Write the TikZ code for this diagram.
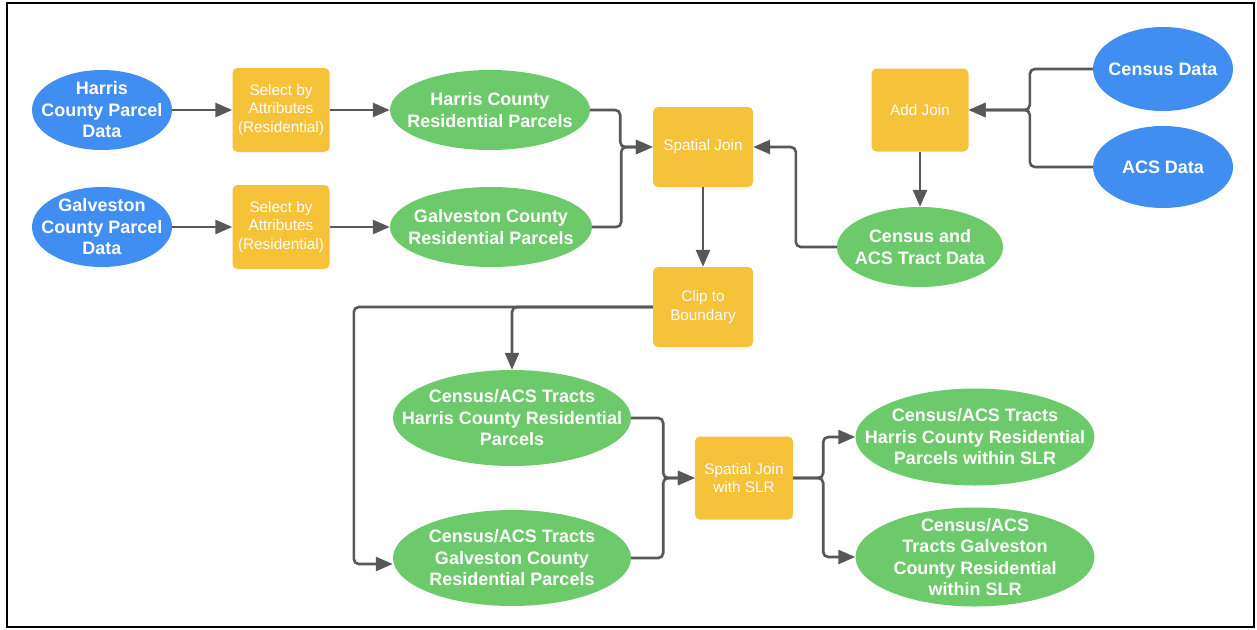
\documentclass[tikz,border=0pt]{standalone}
\usepackage{fontspec}
\setmainfont{Liberation Sans}
\usetikzlibrary{shapes.geometric,arrows.meta}
\definecolor{cblue}{RGB}{64,142,242}
\definecolor{cgreen}{RGB}{108,202,106}
\definecolor{cyellow}{RGB}{246,194,58}
\definecolor{cgray}{RGB}{88,88,88}
\tikzset{
  ell/.style={ellipse, inner sep=-60pt, text=white, align=center,
    font=\bfseries\fontsize{18}{21.5}\selectfont},
  bluell/.style={ell, fill=cblue},
  greenell/.style={ell, fill=cgreen},
  procbox/.style={rectangle, rounded corners=5pt, fill=cyellow, text=white,
    align=center, inner sep=0pt, minimum width=98pt, minimum height=82pt,
    font=\fontsize{15.3}{18.5}\selectfont},
  conn/.style={draw=cgray, line width=2.6pt, rounded corners=5pt,
    -{Triangle[length=17pt,width=14pt]}}
}
\begin{document}
\begin{tikzpicture}[x=1pt,y=-1pt]
\useasboundingbox (0,0) rectangle (1257,629);
\draw[line width=2pt] (7,3) rectangle (1254,627);

% left column
\node[bluell, minimum width=140pt, minimum height=80pt] (hp) at (102,110) {Harris\\County Parcel\\Data};
\node[bluell, minimum width=140pt, minimum height=80pt] (gp) at (102,227) {Galveston\\County Parcel\\Data};
\node[procbox, minimum width=97pt, minimum height=84pt] (s1) at (281,110) {Select by\\Attributes\\(Residential)};
\node[procbox, minimum width=97pt, minimum height=84pt] (s2) at (281,227) {Select by\\Attributes\\(Residential)};
\node[greenell, minimum width=200pt, minimum height=80pt] (hr) at (490,110) {Harris County\\Residential Parcels};
\node[greenell, minimum width=202pt, minimum height=80pt] (gr) at (491,227) {Galveston County\\Residential Parcels};

% middle
\node[procbox, minimum width=100pt, minimum height=80pt] (sj) at (703,147) {Spatial Join};
\node[procbox, minimum width=100pt, minimum height=80pt] (cb) at (703,307) {Clip to\\Boundary};

% right top
\node[procbox, minimum width=97pt, minimum height=83pt] (aj) at (920,110) {Add Join};
\node[bluell, minimum width=140pt, minimum height=84pt] (cd) at (1163,69) {Census Data};
\node[bluell, minimum width=140pt, minimum height=82pt] (ad) at (1163,167) {ACS Data};
\node[greenell, minimum width=166pt, minimum height=80pt] (ct) at (920,247) {Census and\\ACS Tract Data};

% bottom
\node[greenell, minimum width=238pt, minimum height=96pt] (htr) at (512,418) {Census/ACS Tracts\\Harris County Residential\\Parcels};
\node[greenell, minimum width=238pt, minimum height=96pt] (gtr) at (512,558) {Census/ACS Tracts\\Galveston County\\Residential Parcels};
\node[procbox, minimum width=98pt, minimum height=83pt] (slr) at (744,478) {Spatial Join\\with SLR};
\node[greenell, minimum width=239pt, minimum height=97pt] (hs) at (975,437) {Census/ACS Tracts\\Harris County Residential\\Parcels within SLR};
\node[greenell, minimum width=239pt, minimum height=99pt] (gs) at (975,557) {Census/ACS\\Tracts Galveston\\County Residential\\within SLR};

% connectors
\draw[conn] (hp.east) -- (s1.west);
\draw[conn] (s1.east) -- (hr.west);
\draw[conn] (gp.east) -- (s2.west);
\draw[conn] (s2.east) -- (gr.west);
\draw[conn] (hr.east) -- ++(30,0) |- (sj.west);
\draw[conn] (gr.east) -- ++(29,0) |- (sj.west);
\draw[conn] (ct.west) -- ++(-41,0) |- (sj.east);
\draw[conn] (sj.south) -- (cb.north);
\draw[conn] (cd.west) -- ++(-63,0) |- (aj.east);
\draw[conn] (ad.west) -- ++(-63,0) |- (aj.east);
\draw[conn] (aj.south) -- (ct.north);
\draw[conn] (cb.west) -| (htr.north);
\draw[conn] (cb.west) -- ++(-299,0) |- ([yshift=-6pt]gtr.west);
\draw[conn] (htr.east) -- ++(32,0) |- (slr.west);
\draw[conn] (gtr.east) -- ++(32,0) |- (slr.west);
\draw[conn] (slr.east) -- ++(30,0) |- (hs.west);
\draw[conn] (slr.east) -- ++(30,0) |- (gs.west);
\end{tikzpicture}
\end{document}
